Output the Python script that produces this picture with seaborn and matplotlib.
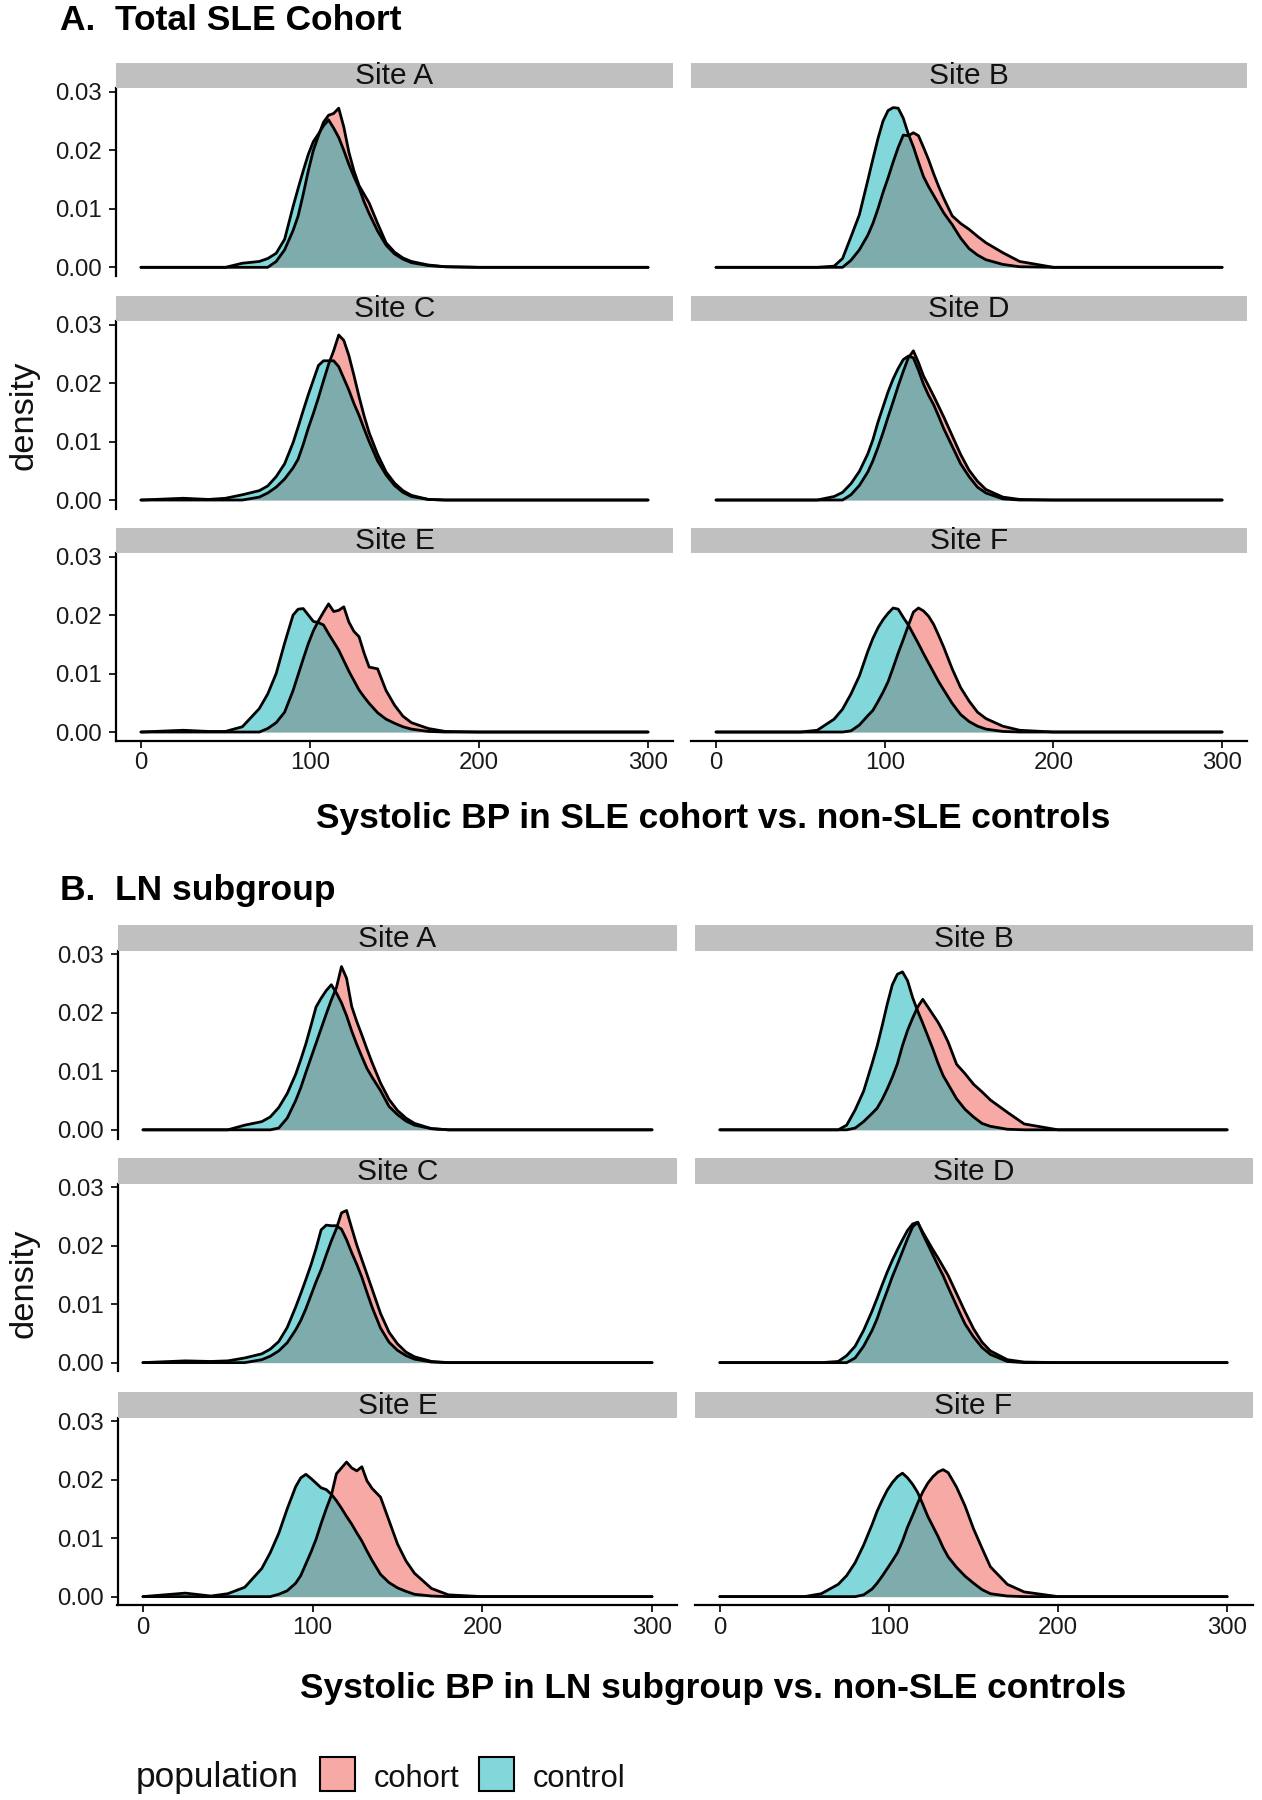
import numpy as np
import pandas as pd
import matplotlib
matplotlib.use("Agg")
import matplotlib.pyplot as plt
import matplotlib.colors as mcolors
from matplotlib.patches import Rectangle
import seaborn as sns

BP = [0, 25, 40, 50, 60, 70, 75, 80, 85, 90, 93, 96, 99, 102, 105, 108, 111, 114,
      117, 120, 123, 126, 129, 132, 135, 140, 145, 150, 155, 160, 170, 180, 200, 300]

SITES = ["Site A", "Site B", "Site C", "Site D", "Site E", "Site F"]
POPULATIONS = ["cohort", "control"]

# densities x 1000, panel A: total SLE cohort
A_SITE_A_COHORT = [0, 0, 0, 0, 0, 0, 0, 1.0, 3.0, 6.3, 8.8, 12.5, 16.5, 20.0, 22.5, 24.8, 26.0, 26.3,
                   27.2, 24.0, 19.7, 16.5, 14.0, 12.5, 11.0, 7.5, 4.2, 2.6, 1.6, 1.0, 0.4, 0.1, 0, 0]
A_SITE_A_CONTROL = [0, 0, 0, 0, 0.7, 1.0, 1.5, 2.4, 4.8, 10.4, 13.5, 16.5, 19.3, 21.5, 22.8, 24.2, 25.2, 23.8,
                    22.2, 20.0, 17.6, 15.5, 13.6, 11.2, 9.2, 6.2, 3.8, 2.3, 1.4, 0.8, 0.3, 0.1, 0, 0]
A_SITE_B_COHORT = [0, 0, 0, 0, 0, 0, 0, 1.2, 3.0, 5.5, 7.5, 10.0, 12.8, 15.3, 18.0, 20.5, 22.6, 22.5,
                   23.0, 22.5, 20.5, 18.4, 16.0, 13.8, 11.8, 8.8, 7.5, 6.5, 5.3, 4.2, 2.5, 1.0, 0, 0]
A_SITE_B_CONTROL = [0, 0, 0, 0, 0, 0.2, 1.5, 5.2, 9.0, 14.9, 18.5, 22.0, 25.0, 26.8, 27.3, 27.2, 25.5, 22.8,
                    20.6, 18.0, 15.5, 13.8, 12.3, 10.8, 9.3, 7.3, 5.0, 3.2, 2.1, 1.3, 0.5, 0.1, 0, 0]
A_SITE_C_COHORT = [0, 0, 0, 0, 0, 0.5, 1.2, 2.2, 3.6, 5.5, 7.0, 9.5, 12.3, 14.8, 17.5, 20.4, 23.2, 25.5,
                   28.2, 27.3, 24.7, 21.3, 17.7, 14.4, 11.5, 7.8, 4.8, 2.9, 1.6, 0.8, 0.1, 0, 0, 0]
A_SITE_C_CONTROL = [0, 0.3, 0.1, 0.3, 0.9, 1.6, 2.4, 4.0, 6.2, 9.8, 12.5, 15.3, 18.0, 20.5, 23.0, 23.8, 23.8, 23.8,
                    22.8, 20.8, 18.8, 16.5, 14.5, 12.2, 10.0, 6.7, 4.3, 2.5, 1.3, 0.6, 0.1, 0, 0, 0]
A_SITE_D_COHORT = [0, 0, 0, 0, 0, 0, 0, 0.9, 2.5, 4.8, 6.7, 9.0, 11.5, 14.2, 16.8, 19.5, 22.0, 24.3,
                   25.5, 23.5, 21.2, 19.5, 17.8, 16.0, 14.2, 11.0, 7.8, 5.1, 3.2, 1.8, 0.5, 0.1, 0, 0]
A_SITE_D_CONTROL = [0, 0, 0, 0, 0, 0.6, 1.3, 2.8, 4.9, 7.9, 10.3, 13.3, 15.9, 18.5, 20.7, 22.5, 24.0, 24.6,
                    24.3, 22.2, 19.8, 17.9, 16.3, 14.3, 12.2, 9.2, 6.2, 4.0, 2.2, 1.2, 0.2, 0, 0, 0]
A_SITE_E_COHORT = [0, 0, 0, 0, 0, 0, 0.6, 1.6, 3.4, 7.1, 9.8, 12.5, 15.1, 17.3, 19.0, 20.5, 21.9, 20.6,
                   20.8, 21.4, 18.8, 17.2, 16.3, 13.5, 11.1, 10.8, 7.1, 4.6, 2.7, 1.6, 0.6, 0.1, 0, 0]
A_SITE_E_CONTROL = [0, 0.3, 0.1, 0.1, 0.9, 4.0, 6.5, 10.0, 15.2, 20.0, 21.0, 21.1, 20.0, 18.9, 18.7, 18.3, 16.8, 15.4,
                    14.0, 12.2, 10.4, 8.8, 7.2, 6.0, 4.9, 3.3, 2.2, 1.5, 0.9, 0.5, 0.1, 0, 0, 0]
A_SITE_F_COHORT = [0, 0, 0, 0, 0, 0, 0, 0.2, 1.2, 2.8, 3.7, 5.2, 6.8, 8.6, 11.0, 13.5, 15.8, 18.2,
                   20.5, 21.2, 20.7, 19.8, 18.4, 16.5, 14.5, 10.8, 7.6, 5.3, 3.4, 2.3, 1.0, 0.3, 0, 0]
A_SITE_F_CONTROL = [0, 0, 0, 0, 0.3, 2.2, 3.9, 6.5, 9.6, 13.8, 16.0, 17.8, 19.2, 20.3, 21.2, 21.0, 19.6, 18.3,
                    16.7, 15.1, 13.4, 11.8, 10.2, 8.6, 7.2, 4.9, 3.0, 1.8, 1.0, 0.5, 0.1, 0, 0, 0]

# densities x 1000, panel B: LN subgroup
B_SITE_A_COHORT = [0, 0, 0, 0, 0, 0, 0, 0.3, 2.0, 5.0, 7.2, 9.8, 12.3, 14.8, 17.3, 19.8, 22.2, 24.3,
                   27.9, 25.9, 21.1, 18.5, 16.2, 13.8, 11.5, 8.0, 5.2, 3.3, 2.0, 1.1, 0.2, 0, 0, 0]
B_SITE_A_CONTROL = [0, 0, 0, 0, 0.8, 1.4, 2.2, 3.8, 6.2, 9.5, 12.0, 14.7, 17.8, 21.0, 22.5, 23.8, 24.8, 23.4,
                    21.7, 19.5, 16.9, 14.6, 12.5, 10.5, 9.0, 6.7, 4.0, 2.6, 1.5, 0.8, 0.2, 0, 0, 0]
B_SITE_B_COHORT = [0, 0, 0, 0, 0, 0, 0, 0.3, 1.4, 2.8, 3.7, 5.2, 7.0, 9.0, 11.3, 14.4, 17.0, 19.1,
                   21.0, 22.3, 21.0, 19.7, 18.4, 16.8, 15.0, 11.2, 9.6, 7.8, 6.5, 5.1, 3.0, 1.0, 0, 0]
B_SITE_B_CONTROL = [0, 0, 0, 0, 0, 0, 0.8, 3.4, 6.6, 11.3, 14.3, 17.8, 21.5, 24.8, 26.6, 27.0, 25.5, 22.6,
                    20.3, 18.2, 16.0, 13.8, 11.4, 9.3, 7.8, 5.3, 3.5, 2.2, 1.1, 0.6, 0.1, 0, 0, 0]
B_SITE_C_COHORT = [0, 0, 0, 0, 0, 0.5, 1.1, 2.0, 3.4, 5.6, 7.2, 9.2, 11.5, 13.8, 15.9, 18.4, 20.8, 22.9,
                   25.6, 26.0, 23.0, 20.1, 17.6, 15.1, 12.6, 8.4, 5.2, 3.2, 1.8, 1.0, 0.2, 0, 0, 0]
B_SITE_C_CONTROL = [0, 0.3, 0.2, 0.3, 0.8, 1.5, 2.3, 3.6, 6.0, 9.5, 11.8, 14.2, 16.7, 19.5, 22.7, 23.5, 23.4, 23.4,
                    22.8, 21.0, 18.8, 16.8, 14.6, 12.0, 9.5, 5.9, 3.5, 2.1, 1.2, 0.6, 0.1, 0, 0, 0]
B_SITE_D_COHORT = [0, 0, 0, 0, 0, 0, 0, 0.8, 2.8, 5.5, 7.5, 10.0, 12.3, 14.7, 16.8, 19.0, 21.2, 23.2,
                   24.0, 22.3, 20.8, 19.3, 17.9, 16.4, 14.9, 11.8, 8.7, 5.8, 3.5, 2.0, 0.5, 0.1, 0, 0]
B_SITE_D_CONTROL = [0, 0, 0, 0, 0, 0.2, 1.2, 2.8, 5.5, 8.8, 11.0, 13.3, 15.5, 17.5, 19.3, 21.0, 22.6, 23.7,
                    24.0, 22.0, 20.2, 18.4, 16.6, 14.9, 12.9, 9.7, 6.6, 4.4, 2.6, 1.4, 0.2, 0, 0, 0]
B_SITE_E_COHORT = [0, 0, 0, 0, 0, 0, 0, 0.4, 1.0, 2.3, 3.6, 5.6, 7.6, 9.8, 12.5, 15.0, 17.3, 21.0,
                   22.0, 23.0, 22.0, 21.5, 22.2, 19.8, 18.5, 17.0, 13.0, 9.0, 6.1, 4.0, 1.4, 0.3, 0, 0]
B_SITE_E_CONTROL = [0, 0.6, 0.1, 0.5, 1.6, 4.8, 7.5, 10.8, 15.0, 18.8, 20.3, 20.9, 20.2, 19.4, 18.6, 18.3, 17.5, 16.4,
                    15.1, 13.7, 12.4, 10.9, 9.5, 7.8, 6.2, 3.8, 2.4, 1.5, 0.9, 0.4, 0.1, 0, 0, 0]
B_SITE_F_COHORT = [0, 0, 0, 0, 0, 0, 0, 0, 0.3, 1.3, 2.3, 3.5, 4.8, 6.1, 7.5, 9.5, 11.9, 13.9,
                   16.0, 17.9, 19.4, 20.5, 21.3, 21.7, 21.2, 18.7, 15.5, 11.6, 8.3, 5.1, 2.1, 0.8, 0, 0]
B_SITE_F_CONTROL = [0, 0, 0, 0, 0.5, 2.1, 3.6, 5.8, 8.8, 12.3, 14.6, 16.5, 18.2, 19.5, 20.5, 21.1, 20.3, 19.2,
                    17.8, 15.8, 13.7, 12.0, 10.3, 8.4, 6.8, 5.0, 3.5, 2.3, 1.2, 0.5, 0.1, 0, 0, 0]

SERIES = {
    ("A", "Site A"): (A_SITE_A_COHORT, A_SITE_A_CONTROL),
    ("A", "Site B"): (A_SITE_B_COHORT, A_SITE_B_CONTROL),
    ("A", "Site C"): (A_SITE_C_COHORT, A_SITE_C_CONTROL),
    ("A", "Site D"): (A_SITE_D_COHORT, A_SITE_D_CONTROL),
    ("A", "Site E"): (A_SITE_E_COHORT, A_SITE_E_CONTROL),
    ("A", "Site F"): (A_SITE_F_COHORT, A_SITE_F_CONTROL),
    ("B", "Site A"): (B_SITE_A_COHORT, B_SITE_A_CONTROL),
    ("B", "Site B"): (B_SITE_B_COHORT, B_SITE_B_CONTROL),
    ("B", "Site C"): (B_SITE_C_COHORT, B_SITE_C_CONTROL),
    ("B", "Site D"): (B_SITE_D_COHORT, B_SITE_D_CONTROL),
    ("B", "Site E"): (B_SITE_E_COHORT, B_SITE_E_CONTROL),
    ("B", "Site F"): (B_SITE_F_COHORT, B_SITE_F_CONTROL),
}

rows = []
for (part, site), pair in SERIES.items():
    for pop, vals in zip(POPULATIONS, pair):
        for bp, d in zip(BP, vals):
            rows.append({"part": part, "site": site, "population": pop,
                         "bp": bp, "density": d / 1000.0})
df = pd.DataFrame(rows)

# colours
COHORT_FILL = "#F7A9A5"
CONTROL_FILL = mcolors.to_rgba("#00AFB4", 0.49)
STRIP_FILL = "#C0C0C0"
TEXT_DARK = "#111111"

sns.set_theme(style="ticks")
plt.rcParams["font.family"] = ["Liberation Sans", "DejaVu Sans"]
plt.rcParams["text.color"] = "black"

W, H = 1262, 1800
fig = plt.figure(figsize=(W / 100, H / 100), dpi=100)


def rect(left, top, right, bottom):
    return [left / W, 1 - bottom / H, (right - left) / W, (bottom - top) / H]


PANEL_H = 187.8
STRIP_H = 25.5
LAYOUT = {
    "A": {"cols": [(115.6, 673.4), (690.7, 1247.4)], "tops": [88.3, 321.0, 553.0]},
    "B": {"cols": [(117.5, 677.5), (694.5, 1252.5)], "tops": [950.8, 1183.6, 1417.6]},
}

for part in ["A", "B"]:
    for i, site in enumerate(SITES):
        r, c = divmod(i, 2)
        left, right = LAYOUT[part]["cols"][c]
        top = LAYOUT[part]["tops"][r]
        ax = fig.add_axes(rect(left, top, right, top + PANEL_H))
        sub = df[(df["part"] == part) & (df["site"] == site)]

        for pop, fill in [("cohort", COHORT_FILL), ("control", CONTROL_FILL)]:
            d = sub[sub["population"] == pop]
            ax.fill_between(d["bp"], 0, d["density"], color=fill, linewidth=0)
            sns.lineplot(data=d, x="bp", y="density", color="black", linewidth=2.0,
                         estimator=None, ax=ax, solid_joinstyle="round")

        ax.set_xlim(-15, 315)
        ax.set_ylim(-0.0015, 0.0306)
        ax.set_xticks([0, 100, 200, 300])
        ax.set_yticks([0, 0.01, 0.02, 0.03])
        ax.set_yticklabels(["0.00", "0.01", "0.02", "0.03"])
        ax.set_xlabel("")
        ax.set_ylabel("")
        ax.tick_params(axis="both", length=5, width=1.4, color="#222222",
                       labelsize=17.3, labelcolor="#1a1a1a")
        ax.tick_params(axis="y", pad=5)
        ax.tick_params(axis="x", pad=3)
        sns.despine(ax=ax)
        for sp in ax.spines.values():
            sp.set_linewidth(1.6)
            sp.set_color("black")
        if c == 1:
            ax.spines["left"].set_visible(False)
            ax.tick_params(axis="y", left=False, labelleft=False)
        if r < 2:
            ax.spines["bottom"].set_visible(False)
            ax.tick_params(axis="x", bottom=False, labelbottom=False)

        sax = fig.add_axes(rect(left, top - STRIP_H, right, top))
        sax.set_facecolor(STRIP_FILL)
        sax.set_xticks([])
        sax.set_yticks([])
        for sp in sax.spines.values():
            sp.set_visible(False)
        sax.text(0.5, 0.47, site, ha="center", va="center", fontsize=21.5,
                 color=TEXT_DARK, transform=sax.transAxes)

# titles and axis labels
fig.text(60 / W, 1 - 30 / H, "A.  Total SLE Cohort", fontsize=25.5,
         fontweight="bold", ha="left", va="baseline", color="black")
fig.text(60 / W, 1 - 900 / H, "B.  LN subgroup", fontsize=25.5,
         fontweight="bold", ha="left", va="baseline", color="black")
fig.text(713 / W, 1 - 828 / H, "Systolic BP in SLE cohort vs. non-SLE controls",
         fontsize=25.4, fontweight="bold", ha="center", va="baseline", color="black")
fig.text(713 / W, 1 - 1698 / H, "Systolic BP in LN subgroup vs. non-SLE controls",
         fontsize=25.4, fontweight="bold", ha="center", va="baseline", color="black")
for yc in [415, 1283]:
    fig.text(24 / W, 1 - yc / H, "density", fontsize=24.8, rotation=90,
             ha="center", va="center", color=TEXT_DARK)

# legend
fig.text(136 / W, 1 - 1787 / H, "population", fontsize=25.4, ha="left",
         va="baseline", color=TEXT_DARK)
key_specs = [(320, COHORT_FILL, "cohort"), (479, CONTROL_FILL, "control")]
for kx, kfill, label in key_specs:
    fig.patches.append(Rectangle((kx / W, 1 - 1791 / H), 35 / W, 34 / H,
                                 transform=fig.transFigure, facecolor=kfill,
                                 edgecolor="black", linewidth=1.5))
    fig.text((kx + 54) / W, 1 - 1787 / H, label, fontsize=22.2, ha="left",
             va="baseline", color=TEXT_DARK)

fig.savefig("out.png", dpi=100)
